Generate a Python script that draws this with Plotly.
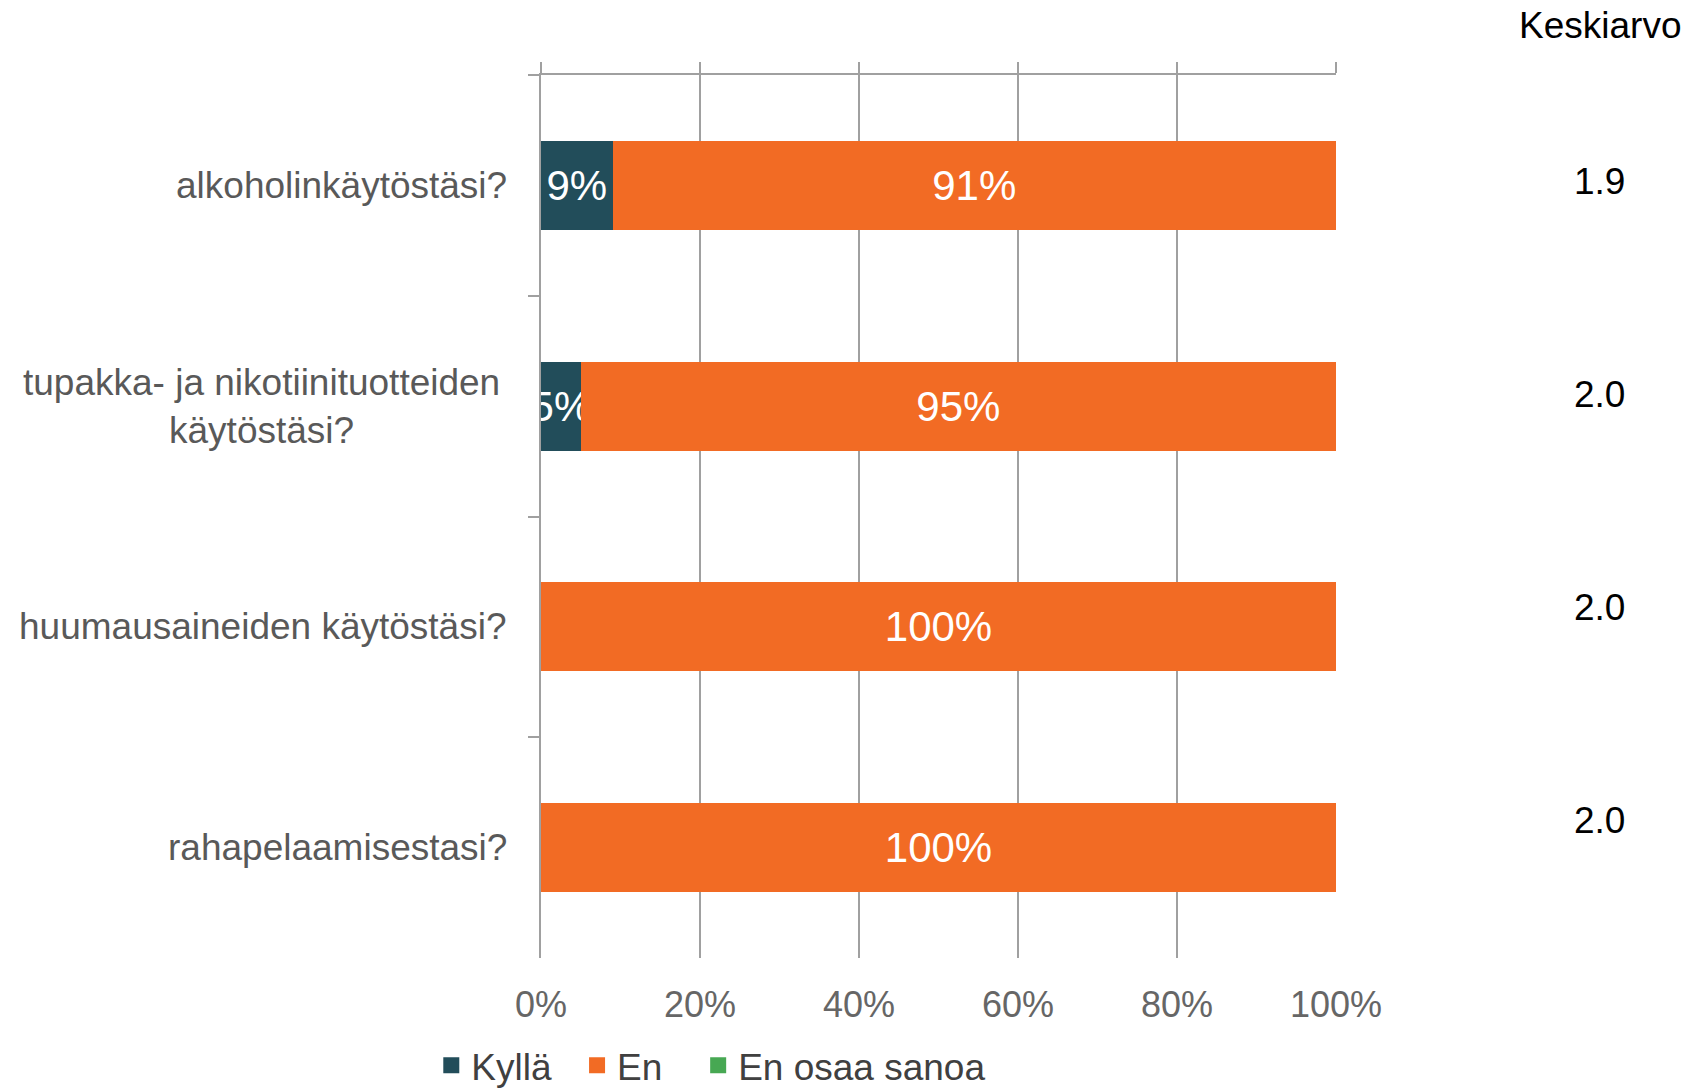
import plotly.graph_objects as go

categories = ["alkoholinkäytöstäsi?",
              "tupakka- ja nikotiinituotteiden<br>käytöstäsi?",
              "huumausaineiden käytöstäsi?",
              "rahapelaamisestasi?"]
series_names = ["Kyllä", "En", "En osaa sanoa"]
kylla = [9, 5, 0, 0]
en = [91, 95, 100, 100]
eos = [0, 0, 0, 0]
keskiarvo = ["1.9", "2.0", "2.0", "2.0"]
x_ticks = [0, 20, 40, 60, 80, 100]
x_ticktext = ["0%", "20%", "40%", "60%", "80%", "100%"]

colors = ["#224D5A", "#F26B24", "#47A853"]
FONT = "Liberation Sans, Arial, sans-serif"
GRID = "#A0A0A0"
legend_pad = ["\u00a0\u00a0", "\u00a0\u00a0\u00a0", ""]

fig = go.Figure()
for name, vals, col in zip(series_names, [kylla, en, eos], colors):
    fig.add_trace(go.Bar(
        y=categories, x=vals, name=name, orientation="h",
        marker=dict(color=col, line=dict(width=0)),
        text=[f"{v}%" if v > 0 else "" for v in vals],
        textposition="inside", insidetextanchor="middle", textangle=0,
        constraintext="none", cliponaxis=True,
        textfont=dict(color="white", size=42, family=FONT),
        showlegend=False, hoverinfo="skip",
    ))
# legend entries (square markers)
for name, col, pad in zip(series_names, colors, legend_pad):
    fig.add_trace(go.Scatter(
        x=[None], y=[None], mode="markers", name=name + pad, xaxis="x2",
        marker=dict(symbol="square", size=16, color=col),
        showlegend=True,
    ))

fig.update_layout(
    barmode="stack", bargap=0.596,
    width=1688, height=1088,
    paper_bgcolor="white", plot_bgcolor="white",
    margin=dict(l=541, r=352, t=75, b=130, autoexpand=False),
    font=dict(family=FONT, size=36, color="#595959"),
    xaxis=dict(range=[0, 100], tickvals=x_ticks, ticktext=x_ticktext,
               showgrid=True, gridcolor=GRID, gridwidth=2,
               showline=False, zeroline=False, ticks="",
               tickfont=dict(size=36, color="#666666"),
               ticklabelstandoff=22, automargin=False, fixedrange=True),
    xaxis2=dict(range=[0, 100], overlaying="x", side="top", anchor="y",
                tickvals=x_ticks, showticklabels=False,
                showline=True, linecolor=GRID, linewidth=2,
                ticks="outside", ticklen=11, tickwidth=2, tickcolor=GRID,
                showgrid=False, zeroline=False, automargin=False),
    yaxis=dict(type="category", autorange="reversed",
               showline=True, linecolor=GRID, linewidth=2,
               ticks="outside", tickson="boundaries", ticklen=11,
               tickwidth=2, tickcolor=GRID, automargin=False,
               showticklabels=False, showgrid=False, zeroline=False),
    legend=dict(orientation="h", x=-0.138, xanchor="left",
                y=-0.122, yanchor="middle", traceorder="normal",
                font=dict(size=37, color="#404040", family=FONT),
                itemwidth=30, bgcolor="rgba(0,0,0,0)"),
)

annotations = []
for i, cat in enumerate(categories):
    two_line = "<br>" in cat
    annotations.append(dict(
        x=0, xref="paper", y=cat, yref="y",
        text=cat, showarrow=False, xanchor="right", yanchor="middle",
        align="center" if two_line else "right",
        xshift=-39 if two_line else -32,
        font=dict(size=37, color="#595959", family=FONT),
    ))
annotations.append(dict(
    x=1.332, xref="paper", y=1.056, yref="paper", text="Keskiarvo",
    showarrow=False, xanchor="center", yanchor="middle",
    font=dict(size=37, color="black", family=FONT)))
for i, v in enumerate(keskiarvo):
    annotations.append(dict(
        x=1.332, xref="paper", y=0.879 - i * 0.2412, yref="paper", text=v,
        showarrow=False, xanchor="center", yanchor="middle",
        font=dict(size=37, color="black", family=FONT)))
fig.update_layout(annotations=annotations)

fig.write_html("out.html", config={"displayModeBar": False},
               post_script="document.body.style.margin='0';document.body.style.overflow='hidden';")
